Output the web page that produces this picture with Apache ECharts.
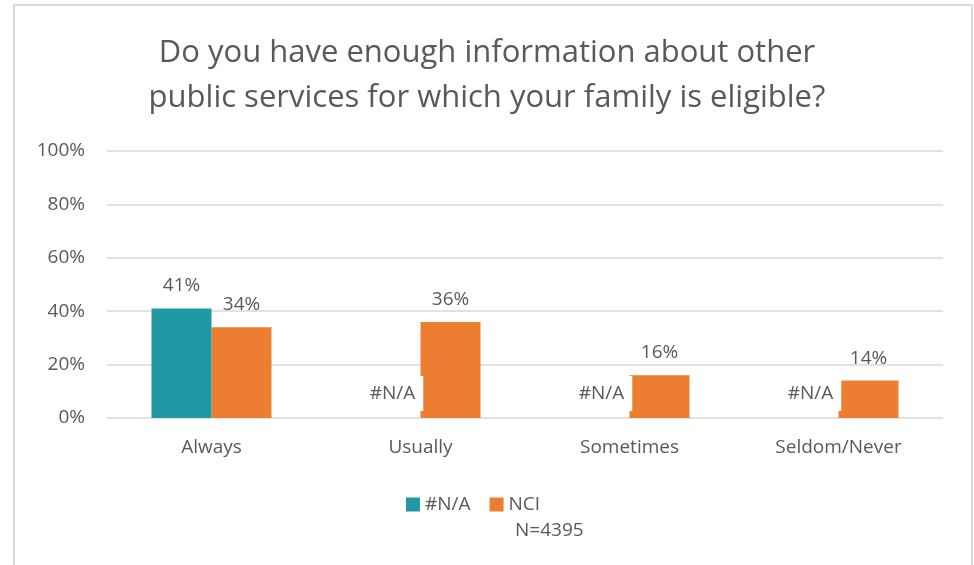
<!DOCTYPE html>
<html>
<head>
<meta charset="utf-8">
<script src="https://cdn.jsdelivr.net/npm/echarts@6/dist/echarts.min.js"></script>
<style>
  html, body { margin: 0; padding: 0; background: #fff; }
  #main { width: 974px; height: 565px; }
</style>
</head>
<body>
<div id="main"></div>
<script>
var categories = ['Always', 'Usually', 'Sometimes', 'Seldom/Never'];
var naValues = [41, 0, 0, 0];
var nciValues = [34, 36, 16, 14];
var yTicks = [0, 20, 40, 60, 80, 100];

var FONT = '"Open Sans"';
var GREY = '#595959';

// zero values show as "#N/A" with a white box, like the Excel source
var naData = naValues.map(function (v) {
	if (v === 0) {
		return {
			value: 0,
			label: {
				formatter: '#N/A',
				backgroundColor: '#fff',
				padding: [8, 8, 8, 8],
				offset: [2, 0],
				distance: 7
			}
		};
	}
	return v;
});

var option = {
	animation: false,
	textStyle: { fontFamily: FONT },
	title: {
		text: 'Do you have enough information about other\npublic services for which your family is eligible?',
		left: 'center',
		top: 26,
		textStyle: {
			fontFamily: FONT,
			fontWeight: 'normal',
			fontSize: 31,
			lineHeight: 45,
			color: GREY
		}
	},
	legend: {
		data: ['#N/A', 'NCI'],
		left: 401,
		top: 490,
		itemWidth: 14,
		itemHeight: 14,
		itemGap: 19,
		icon: 'rect',
		textStyle: { fontFamily: FONT, fontSize: 19, color: GREY }
	},
	grid: { left: 107, right: 31, top: 151, bottom: 147 },
	xAxis: {
		type: 'category',
		data: categories,
		axisLine: { show: false },
		axisTick: { show: false },
		axisLabel: { fontFamily: FONT, fontSize: 19, color: GREY, margin: 20 }
	},
	yAxis: {
		type: 'value',
		min: yTicks[0],
		max: yTicks[yTicks.length - 1],
		interval: 20,
		axisLabel: { fontFamily: FONT, fontSize: 19, color: GREY, margin: 22, formatter: '{value}%' },
		splitLine: { lineStyle: { color: '#D9D9D9', width: 1.5 } }
	},
	series: [
		{
			name: '#N/A',
			type: 'bar',
			data: naData,
			barWidth: 60,
			barGap: '0%',
			itemStyle: { color: '#2199A5' },
			label: {
				show: true,
				position: 'top',
				distance: 13,
				formatter: '{c}%',
				fontFamily: FONT,
				fontSize: 19,
				color: GREY
			},
			z: 3
		},
		{
			name: 'NCI',
			type: 'bar',
			data: nciValues,
			barWidth: 60,
			itemStyle: { color: '#ED7D31' },
			label: {
				show: true,
				position: 'top',
				distance: 13,
				formatter: '{c}%',
				fontFamily: FONT,
				fontSize: 19,
				color: GREY
			},
			z: 2
		}
	],
	graphic: [
		{
			type: 'rect',
			shape: { x: 14, y: 5, width: 958, height: 580 },
			style: { fill: 'none', stroke: '#D9D9D9', lineWidth: 2 },
			silent: true
		},
		{
			type: 'text',
			left: 515,
			top: 521,
			style: { text: 'N=4395', fontFamily: FONT, fontSize: 19, fill: GREY }
		}
	]
};

var myChart = echarts.init(document.getElementById('main'));
myChart.setOption(option);
</script>
</body>
</html>
